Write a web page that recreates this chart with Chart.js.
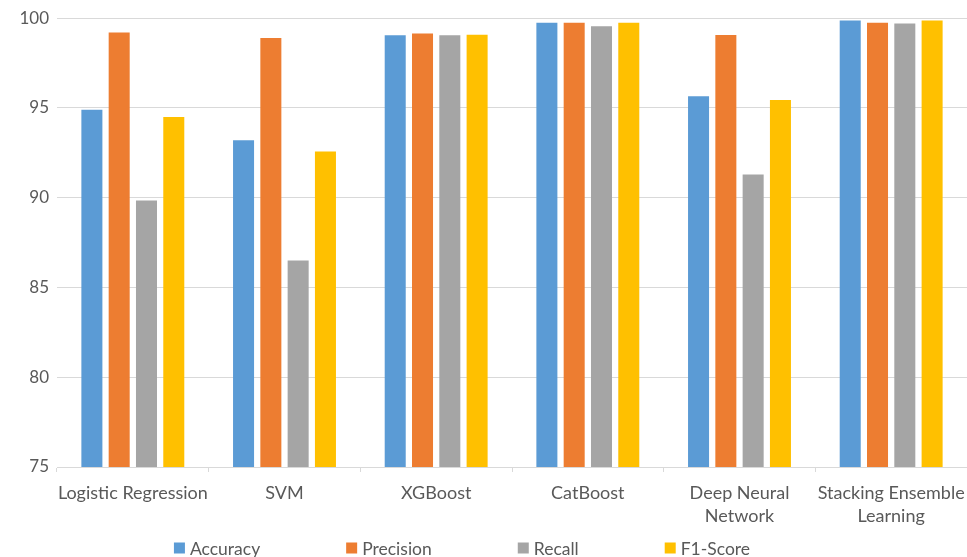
<!DOCTYPE html>
<html>
<head>
<meta charset="utf-8">
<script src="https://cdn.jsdelivr.net/npm/chart.js@4/dist/chart.umd.min.js"></script>
<style>
  html, body { margin: 0; padding: 0; background: #ffffff; }
  #wrap { width: 967px; height: 557px; }
</style>
</head>
<body>
<div id="wrap"><canvas id="chart" width="967" height="557"></canvas></div>
<script>
// Model names along the x axis (multi-line where the label wraps)
const models = [
  'Logistic Regression',
  'SVM',
  'XGBoost',
  'CatBoost',
  ['Deep Neural', 'Network'],
  ['Stacking Ensemble', 'Learning']
];

// Scores per metric, one value per model (%)
const accuracy  = [94.9, 93.2, 99.05, 99.75, 95.65, 99.87];
const precision = [99.2, 98.9, 99.15, 99.75, 99.07, 99.75];
const recall    = [89.85, 86.5, 99.05, 99.55, 91.3, 99.7];
const f1Score   = [94.5, 92.57, 99.08, 99.75, 95.45, 99.87];

const metricNames = ['Accuracy', 'Precision', 'Recall', 'F1-Score'];
const metricColors = ['#5B9BD5', '#ED7D31', '#A5A5A5', '#FFC000'];

// Y axis range and step
const yMin = 75;
const yMax = 100;
const yStep = 5;

const FONT = 'Lato, "Open Sans", sans-serif';
const TEXT = '#595959';
const GRID = '#d9d9d9';

// Flat legend row drawn under the axis labels, square swatches + text
const flatLegend = {
  id: 'flatLegend',
  afterDraw(chart) {
    const ctx = chart.ctx;
    const box = 11, gapText = 5, gapItem = 86;
    ctx.save();
    ctx.font = '17.5px ' + FONT;
    ctx.textBaseline = 'middle';
    const items = chart.data.datasets.map(ds => ({
      label: ds.label, color: ds.backgroundColor,
      w: box + gapText + ctx.measureText(ds.label).width
    }));
    const total = items.reduce((s, it) => s + it.w, 0) + gapItem * (items.length - 1);
    let x = 462 - total / 2;
    const y = chart.height - 9;
    items.forEach(it => {
      ctx.fillStyle = it.color;
      ctx.fillRect(x, y - box / 2, box, box);
      ctx.fillStyle = TEXT;
      ctx.fillText(it.label, x + box + gapText, y + 1);
      x += it.w + gapItem;
    });
    ctx.restore();
  }
};

const series = [accuracy, precision, recall, f1Score];

new Chart(document.getElementById('chart'), {
  type: 'bar',
  data: {
    labels: models,
    datasets: series.map((vals, i) => ({
      label: metricNames[i],
      data: vals,
      backgroundColor: metricColors[i],
      borderWidth: 0,
      barPercentage: 0.77,
      categoryPercentage: 0.72
    }))
  },
  options: {
    responsive: false,
    animation: false,
    layout: { padding: { top: 9, left: 10, right: -2, bottom: 29 } },
    plugins: {
      legend: { display: false },
      tooltip: { enabled: false }
    },
    scales: {
      x: {
        afterFit(scale) {
          scale.height = 61;
          // the long end labels still fit inside their category; no extra side room
          scale.paddingLeft = 0;
          scale.paddingRight = 0;
        },
        grid: { offset: true, drawOnChartArea: false, color: GRID, tickLength: 5 },
        border: { color: GRID },
        ticks: {
          color: TEXT,
          font: { family: FONT, size: 18, lineHeight: 1.28 },
          padding: 10,
          maxRotation: 0,
          minRotation: 0,
          autoSkip: false
        }
      },
      y: {
        min: yMin,
        max: yMax,
        afterFit(scale) { scale.width = 47; },
        grid: { color: GRID, drawTicks: false },
        border: { display: false },
        ticks: {
          stepSize: yStep,
          color: TEXT,
          font: { family: FONT, size: 17 },
          padding: 8
        }
      }
    }
  },
  plugins: [flatLegend]
});
</script>
</body>
</html>
